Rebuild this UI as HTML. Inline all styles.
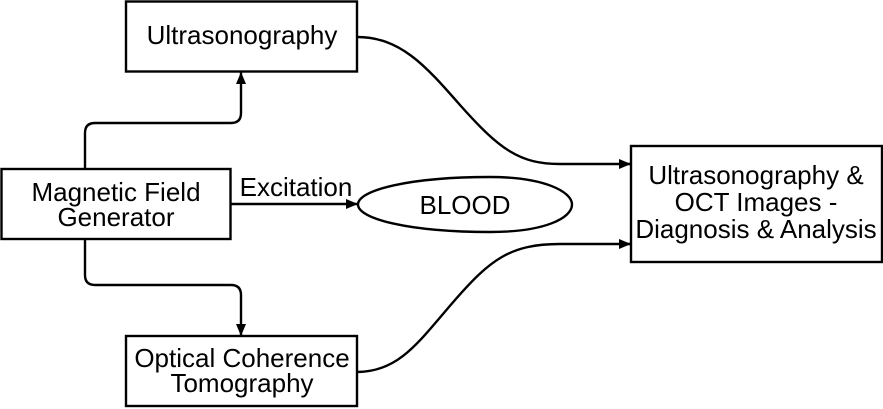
<!DOCTYPE html>
<html><head><style>
html,body{margin:0;padding:0;background:#fff;}
svg{display:block;}
text{font-family:"Liberation Sans",Arial,sans-serif;fill:#000;}
</style></head><body>
<svg width="883" height="409" viewBox="0 0 883 409" xmlns="http://www.w3.org/2000/svg">
<defs>
<marker id="a" markerWidth="12" markerHeight="10" refX="12" refY="5" orient="auto" markerUnits="userSpaceOnUse">
<path d="M0,0 L12,5 L0,10 Z" fill="#000"/>
</marker>
</defs>
<g fill="none" stroke="#000" stroke-width="2.4">
<rect x="126" y="1.5" width="231" height="70"/>
<rect x="1.5" y="169" width="229" height="70"/>
<rect x="126" y="336" width="231" height="70"/>
<rect x="631" y="146" width="251" height="116"/>
<path d="M358,204.5 C358,190 410,177 490,177 C545,177 572,192 572,204.5 C572,218 545,232 490,232 C410,232 358,219 358,204.5 Z"/>
<path d="M231,204 L358,204" marker-end="url(#a)"/>
<path d="M85,169 L85,133 Q85,123 95,123 L231,123 Q241,123 241,113 L241,72" marker-end="url(#a)"/>
<path d="M85,239 L85,275 Q85,285 95,285 L231,285 Q241,285 241,295 L241,336" marker-end="url(#a)"/>
<path d="M357,37 C400,37 425,65 460,105 C500,150 520,164 560,164 L631,164" marker-end="url(#a)"/>
<path d="M357,372 C400,372 420,340 455,300 C490,260 510,244 560,244 L631,244" marker-end="url(#a)"/>
</g>
<g font-size="26" text-anchor="middle">
<text x="242" y="44">Ultrasonography</text>
<text x="116" y="201">Magnetic Field</text>
<text x="116" y="226">Generator</text>
<text x="242" y="367">Optical Coherence</text>
<text x="242" y="392">Tomography</text>
<text x="296" y="196">Excitation</text>
<text x="465" y="214">BLOOD</text>
<text x="756" y="184">Ultrasonography &amp;</text>
<text x="756" y="211">OCT Images -</text>
<text x="756" y="238">Diagnosis &amp; Analysis</text>
</g>
</svg>
</body></html>
